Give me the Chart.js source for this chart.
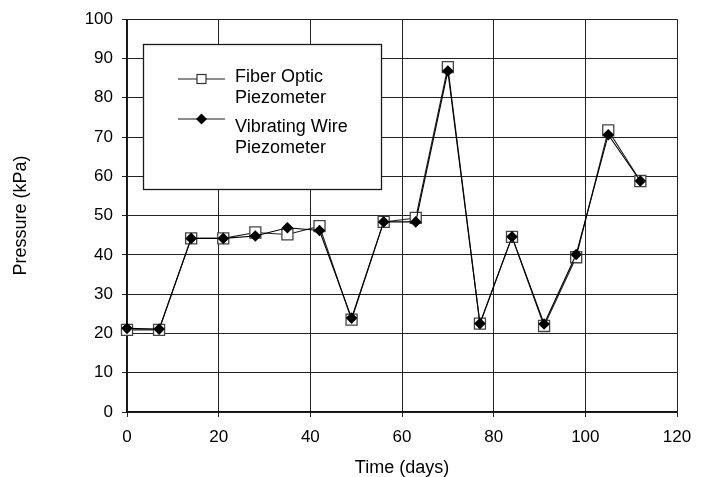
<!DOCTYPE html>
<html>
<head>
<meta charset="utf-8">
<script src="https://cdn.jsdelivr.net/npm/chart.js@4/dist/chart.umd.min.js"></script>
<style>
  html, body { margin: 0; padding: 0; background: #ffffff; }
  #wrap { width: 707px; height: 477px; }
</style>
</head>
<body>
<div id="wrap"><canvas id="c" width="707" height="477"></canvas></div>
<script>
// ---- data ----
const days = [0, 7, 14, 21, 28, 35, 42, 49, 56, 63, 70, 77, 84, 91, 98, 105, 112];
const fiberOptic = [20.9, 20.9, 44.2, 44.2, 45.7, 45.2, 47.3, 23.5, 48.4, 49.4, 87.8, 22.5, 44.6, 21.9, 39.4, 71.7, 58.8];
const vibratingWire = [21.3, 21.1, 44.2, 44.2, 44.8, 46.9, 46.2, 23.9, 48.4, 48.4, 86.8, 22.5, 44.6, 22.4, 40.1, 70.6, 58.8];
const seriesLabels = [["Fiber Optic", "Piezometer"], ["Vibrating Wire", "Piezometer"]];
const xTitle = "Time (days)";
const yTitle = "Pressure (kPa)";

const FONT = "'Liberation Sans', Arial, Helvetica, sans-serif";

function toPoints(xs, ys) { return xs.map((x, i) => ({ x: x, y: ys[i] })); }

// custom in-plot legend box
const boxLegend = {
  id: 'boxLegend',
  afterDraw(chart) {
    const ctx = chart.ctx;
    const x0 = 143, y0 = 44, w = 238, h = 145;
    ctx.save();
    ctx.fillStyle = '#ffffff';
    ctx.fillRect(x0, y0, w, h);
    ctx.strokeStyle = '#1a1a1a';
    ctx.lineWidth = 1.3;
    ctx.strokeRect(x0 + 0.5, y0 + 0.5, w, h);

    const rows = [
      { lineY: 79, textY: [77, 98], shape: 'square' },
      { lineY: 119, textY: [127, 148], shape: 'diamond' }
    ];
    rows.forEach((r, i) => {
      ctx.strokeStyle = '#1a1a1a';
      ctx.lineWidth = 1.2;
      ctx.beginPath();
      ctx.moveTo(178, r.lineY);
      ctx.lineTo(225, r.lineY);
      ctx.stroke();
      const cx = 201.5, cy = r.lineY;
      if (r.shape === 'square') {
        ctx.fillStyle = '#ffffff';
        ctx.fillRect(cx - 4.5, cy - 4.5, 9, 9);
        ctx.strokeStyle = '#333333';
        ctx.lineWidth = 1.2;
        ctx.strokeRect(cx - 4.5, cy - 4.5, 9, 9);
      } else {
        ctx.fillStyle = '#000000';
        ctx.beginPath();
        ctx.moveTo(cx, cy - 5.5);
        ctx.lineTo(cx + 5.5, cy);
        ctx.lineTo(cx, cy + 5.5);
        ctx.lineTo(cx - 5.5, cy);
        ctx.closePath();
        ctx.fill();
      }
      ctx.fillStyle = '#000000';
      ctx.font = '18px ' + FONT;
      ctx.textBaseline = 'middle';
      ctx.textAlign = 'left';
      const lbl = chart.data.datasets[i].label;
      lbl.forEach((t, k) => ctx.fillText(t, 235, r.textY[k]));
    });
    ctx.restore();
  }
};

const ctx = document.getElementById('c').getContext('2d');
new Chart(ctx, {
  type: 'scatter',
  data: {
    datasets: [
      {
        label: seriesLabels[0],
        data: toPoints(days, fiberOptic),
        showLine: true,
        borderColor: '#222222',
        borderWidth: 1.1,
        pointStyle: 'rect',
        pointRadius: 7.8,
        pointHoverRadius: 7.8,
        pointBackgroundColor: '#ffffff',
        pointBorderColor: '#444444',
        pointBorderWidth: 1.3,
        clip: false,
        order: 2
      },
      {
        label: seriesLabels[1],
        data: toPoints(days, vibratingWire),
        showLine: true,
        borderColor: '#000000',
        borderWidth: 1.1,
        pointStyle: 'rectRot',
        pointRadius: 5.8,
        pointHoverRadius: 5.8,
        pointBackgroundColor: '#000000',
        pointBorderColor: '#000000',
        pointBorderWidth: 0,
        clip: false,
        order: 1
      }
    ]
  },
  options: {
    responsive: false,
    animation: false,
    events: [],
    layout: { padding: { top: 14, right: 30, bottom: 0, left: 0 } },
    plugins: {
      legend: { display: false },
      tooltip: { enabled: false }
    },
    scales: {
      x: {
        type: 'linear',
        min: 0, max: 120,
        afterFit(s) { s.height = 65; },
        ticks: { stepSize: 20, color: '#000', padding: 10, font: { family: FONT, size: 17 } },
        grid: { color: '#222222', lineWidth: 1, tickLength: 5, drawTicks: true },
        border: { color: '#111111', width: 1.2 },
        title: { display: true, text: xTitle, color: '#000', padding: 0,
                 font: { family: FONT, size: 18, lineHeight: 1 } }
      },
      y: {
        type: 'linear',
        min: 0, max: 100,
        afterFit(s) { s.width = 127; },
        ticks: { stepSize: 10, color: '#000', padding: 9, font: { family: FONT, size: 17 } },
        grid: { color: '#222222', lineWidth: 1, tickLength: 5, drawTicks: true },
        border: { color: '#111111', width: 1.2 },
        title: { display: true, text: yTitle, color: '#000', padding: { top: 12, bottom: 0 },
                 font: { family: FONT, size: 18, lineHeight: 1 } }
      }
    }
  },
  plugins: [boxLegend]
});
</script>
</body>
</html>
